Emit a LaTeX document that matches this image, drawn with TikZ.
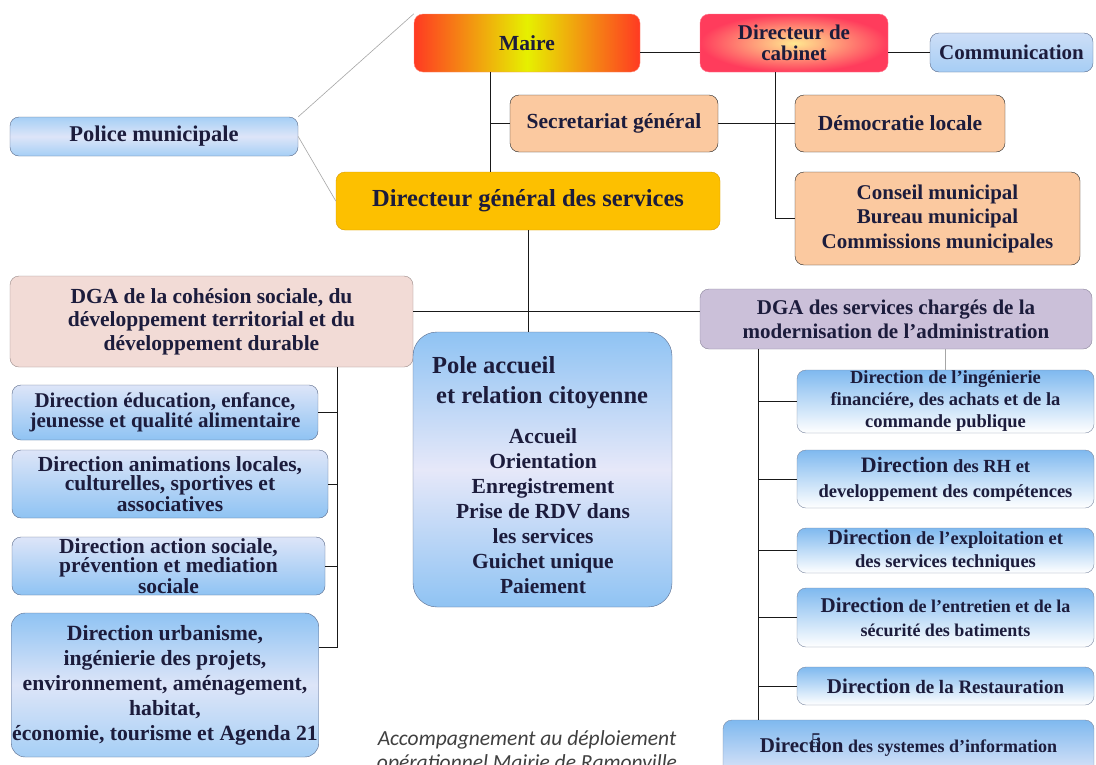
\documentclass[tikz,border=0pt]{standalone}
\usepackage{fontspec}
\setmainfont{Liberation Serif}
\newfontfamily\notefont{Carlito}
\usetikzlibrary{positioning}

\definecolor{ink}{HTML}{1C1C3C}
\definecolor{maired}{HTML}{FF3A22}
\definecolor{maiyel}{HTML}{E6F000}
\definecolor{cabred}{HTML}{FF3C5C}
\definecolor{cabyel}{HTML}{FFE890}
\definecolor{peachfill}{HTML}{FBC9A0}
\definecolor{goldfill}{HTML}{FDC000}
\definecolor{goldedge}{HTML}{D99A00}
\definecolor{rosefill}{HTML}{F2DBD6}
\definecolor{roseedge}{HTML}{9A8A88}
\definecolor{lilacfill}{HTML}{CBC0D9}
\definecolor{lilacedge}{HTML}{8A849A}
\definecolor{blueedge}{HTML}{5A6A8A}
\definecolor{bluepale}{HTML}{DDE5F8}
\definecolor{bluedeep}{HTML}{8FC3F3}
\definecolor{bluemid}{HTML}{7FB9EF}
\definecolor{bluewash}{HTML}{E6E8F9}

\newcommand{\fsz}[2]{\fontsize{#1}{#2}\selectfont}

\begin{document}
\begin{tikzpicture}[
  x=1pt, y=-1pt,
  box/.style = {draw, rounded corners=9pt, align=center, inner sep=1pt, text=ink, font=\bfseries\fsz{21}{23}},
  peach/.style = {box, draw=black!85, fill=peachfill},
  lbox/.style = {box, draw=blueedge, top color=bluepale, bottom color=bluedeep},
  rbox/.style = {box, draw=blueedge!80, top color=bluemid, bottom color=white, minimum width=297, font=\bfseries\fsz{18.5}{22}},
  trunk/.style = {draw=black!90, line width=1pt},
  faint/.style = {draw=black!35, line width=0.6pt}
]

\clip (0,0) rectangle (1096,764);
\fill[white] (0,0) rectangle (1096,764);

% Top row
\node (maire) [box, minimum width=226, minimum height=58, draw=maired!60, left color=maired, right color=maired, middle color=maiyel, font=\bfseries\fsz{21.5}{23}] at (527,43) {Maire};
\node (cab) [box, minimum width=188, minimum height=58, draw=cabred!70, shading=radial, inner color=cabyel, outer color=cabred, font=\bfseries\fsz{21}{21}] at (794,43) {Directeur de\\cabinet};
\node (comm) [box, minimum width=163, minimum height=39, draw=blueedge, top color=bluepale!80!bluedeep, bottom color=bluedeep!70!bluepale] at (1011.5,52.5) {Communication};
\node (police) [box, minimum width=288, minimum height=39, draw=blueedge, top color=bluedeep!80, bottom color=bluedeep!80, middle color=bluepale, font=\bfseries\fsz{22.5}{23}] at (154,136.5) {Police municipale};

% Cabinet and secretariat
\node (secr) [peach, minimum width=208, minimum height=57, font=\bfseries\fsz{21.5}{23}] at (614,123.5) {Secretariat général};
\node (demo) [peach, minimum width=210, minimum height=57, font=\bfseries\fsz{21.5}{23}] at (900,123.5) {Démocratie locale};
\node (conseil) [peach, minimum width=285, minimum height=93, font=\bfseries\fsz{21}{24.5}] at (937.5,218.5) {Conseil municipal\\Bureau municipal\\Commissions municipales};
\node (dgs) [box, minimum width=384, minimum height=58, draw=goldedge, fill=goldfill, font=\bfseries\fsz{24.5}{26}] at (528,201) {Directeur général des services};

% Deputy directors
\node (dgaL) [box, minimum width=403, minimum height=91, draw=roseedge, fill=rosefill, font=\bfseries\fsz{21.5}{23.5}] at (211.5,321.5) {DGA de la cohésion sociale, du\\développement territorial et du\\développement durable};
\node (dgaR) [box, minimum width=392, minimum height=60, draw=lilacedge, fill=lilacfill, font=\bfseries\fsz{21}{24}] at (896,319) {DGA des services chargés de la\\modernisation de l'administration};

% Citizen desk
\node (pole) [box, minimum width=259, minimum height=275, rounded corners=24pt, draw=blueedge, top color=bluedeep, bottom color=bluedeep, middle color=bluewash] at (542.5,469.5) {};
\node (poletitle) [anchor=north west, align=left, inner sep=0, text=ink, font=\bfseries\fsz{24.5}{30}] at (432,356) {Pole accueil\\\hspace*{4pt}et relation citoyenne};
\node (polelist) [anchor=north, align=center, inner sep=0, text=ink, font=\bfseries\fsz{21.5}{25}] at (543,428) {Accueil\\Orientation\\Enregistrement\\Prise de RDV dans\\les services\\Guichet unique\\Paiement};

% Left branch
\node (educ) [lbox, minimum width=306, minimum height=55, font=\bfseries\fsz{21}{20}] at (165,412.5) {Direction éducation, enfance,\\jeunesse et qualité alimentaire};
\node (anim) [lbox, minimum width=316, minimum height=68, font=\bfseries\fsz{21.5}{19}] at (170,484) {Direction animations locales,\\culturelles, sportives et\\associatives};
\node (social) [lbox, minimum width=313, minimum height=58, font=\bfseries\fsz{21.5}{19}] at (168.5,566) {Direction action sociale,\\prévention et mediation\\sociale};
\node (urba) [lbox, minimum width=306, minimum height=144, rounded corners=14pt, top color=bluedeep, bottom color=bluedeep!80, middle color=bluepale, font=\bfseries\fsz{21.7}{25}] at (165,685) {Direction urbanisme,\\ingénierie des projets,\\environnement, aménagement,\\habitat,\\économie, tourisme et Agenda 21};

% Right branch
\node (ingen) [rbox, minimum height=63] at (945.5,401.5) {Direction de l'ingénierie\\financiére, des achats et de la\\commande publique};
\node (rh) [rbox, minimum height=58, font=\bfseries\fsz{18.5}{25}] at (945.5,479) {{\fsz{22}{25}Direction} des RH et\\developpement des compétences};
\node (exploit) [rbox, minimum height=45, font=\bfseries\fsz{18.5}{23}] at (945.5,550.5) {{\fsz{21}{23}Direction} de l'exploitation et\\des services techniques};
\node (entret) [rbox, minimum height=59, font=\bfseries\fsz{18}{24}] at (945.5,617.5) {{\fsz{21}{24}Direction} de l'entretien et de la\\sécurité des batiments};
\node (resto) [rbox, minimum height=38, font=\bfseries\fsz{19}{21}] at (945.5,686) {{\fsz{21}{21}Direction} de la Restauration};
\node (si) [rbox, minimum width=371, minimum height=54, top color=bluemid, bottom color=bluepale, font=\bfseries\fsz{18}{21}] at (908.5,747) {{\fsz{21}{21}Direction} des systemes d'information};
\node (pageno) [inner sep=0, text=ink, font=\fsz{21}{21}] at (816,741) {5};

% Footer note
\node (note) [anchor=north, align=center, inner sep=0, text=black!75, font=\notefont\itshape\fsz{21.5}{24}] at (527,730) {Accompagnement au déploiement\\opérationnel Mairie de Ramonville};

% Top links
\coordinate (tA) at (490,100);
\coordinate (tB) at (775,100);
\draw[trunk] (maire.east |- comm.west) -- (cab.west |- comm.west);
\draw[trunk] (cab.east |- comm.west) -- (comm.west);
\draw[trunk] (maire.south -| tA) -- (dgs.north -| tA);
\draw[trunk] (secr.west -| tA) -- (secr.west);
\draw[trunk] (secr.east) -- (demo.west);
\draw[trunk] (cab.south -| tB) |- (conseil.west);
\draw[faint] (police.north east) -- (maire.north west);
\draw[faint] (police.east) -- (dgs.west);

% Middle links
\coordinate (hub) at (528,311);
\draw[trunk] (dgs.south) -- (dgs.south |- pole.north);
\draw[trunk] (dgaL.east |- hub) -- (dgaR.west |- hub);

% Left branch links
\coordinate (tC) at (337,647);
\draw[trunk] (dgaL.south -| tC) -- (tC) -- (urba.east |- tC);
\draw[trunk] (educ.east) -- (educ.east -| tC);
\draw[trunk] (anim.east) -- (anim.east -| tC);
\draw[trunk] (social.east) -- (social.east -| tC);

% Right branch links
\coordinate (tD) at (758,500);
\draw[trunk] (dgaR.south -| tD) -- (si.north -| tD);
\draw[trunk] (ingen.west -| tD) -- (ingen.west);
\draw[trunk] (rh.west -| tD) -- (rh.west);
\draw[trunk] (exploit.west -| tD) -- (exploit.west);
\draw[trunk] (entret.west -| tD) -- (entret.west);
\draw[trunk] (resto.west -| tD) -- (resto.west);
\draw[faint] (dgaR.south -| ingen.north) -- (ingen.north);

\end{tikzpicture}
\end{document}
